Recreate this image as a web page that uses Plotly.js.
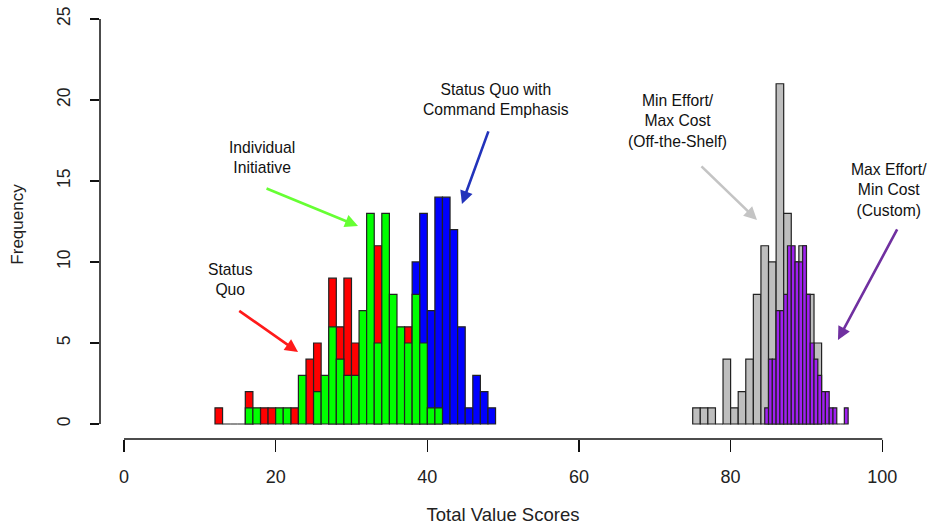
<!DOCTYPE html>
<html>
<head>
<meta charset="utf-8">
<script src="https://cdn.plot.ly/plotly-3.0.1.min.js"></script>
<style>html,body{margin:0;padding:0;background:#fff;}#chart{width:932px;height:525px;}</style>
</head>
<body>
<div id="chart"></div>
<script>
// Bin left edges and frequencies (unit-width bins)
const statusQuoBins   = [12, 13, 14, 15, 16, 18, 19, 22, 24, 25, 27, 28, 29, 30, 33, 37];
const statusQuoCounts = [ 1,  0,  0,  0,  2,  1,  1,  1,  4,  5,  9,  6,  9,  5, 11,  6];

const commandBins   = [38, 39, 40, 41, 42, 43, 44, 45, 46, 47, 48];
const commandCounts = [10, 13,  7, 14, 14, 12,  6,  1,  3,  2,  1];

const initiativeBins   = [16, 17, 20, 21, 23, 25, 26, 27, 28, 29, 30, 31, 32, 33, 34, 35, 36, 37, 38, 39, 40, 41];
const initiativeCounts = [ 1,  1,  1,  1,  3,  2,  3,  6,  4,  3,  3,  7, 13,  5, 13,  8,  6,  5,  8,  5,  1,  1];

const offShelfBins   = [75, 76, 77, 78, 79, 80, 81, 82, 83, 84, 85, 86, 87, 88, 89, 90, 91];
const offShelfCounts = [ 1,  1,  1,  0,  4,  1,  2,  4,  8, 11, 10, 21, 13, 10, 11,  8,  5];

// Half-unit bins
const customBins   = [84.5, 85, 85.5, 86, 86.5, 87, 87.5, 88, 88.5, 89, 89.5, 90, 90.5, 91, 91.5, 92, 92.5, 93, 93.5, 94, 94.5, 95];
const customCounts = [   1,  4,    4,  7,    7,  8,   11, 11,   10, 10,   11,  8,    5,  4,    3,  2,    2,  1,    1,  0,    0,  1];

const xTicks = [0, 20, 40, 60, 80, 100];
const yTicks = [0, 5, 10, 15, 20, 25];

const FONT = 'Liberation Sans, Arial, sans-serif';
const edge = {color: '#222222', width: 1.2};

function hist(bins, counts, color, w) {
  return {type: 'bar', x: bins, y: counts, width: w, offset: 0,
          marker: {color: color, line: edge}, hoverinfo: 'x+y', showlegend: false};
}

const data = [
  hist(statusQuoBins, statusQuoCounts, '#FF0000', 1),
  hist(commandBins, commandCounts, '#0000FF', 1),
  hist(initiativeBins, initiativeCounts, '#00FF00', 1),
  hist(offShelfBins, offShelfCounts, '#BEBEBE', 1),
  hist(customBins, customCounts, '#A020F0', 0.5)
];

function label(x, y, text) {
  return {x: x, y: y, xref: 'x', yref: 'y', text: text, showarrow: false,
          font: {family: FONT, size: 15.7, color: '#111'}, align: 'center'};
}
function arrow(x0, y0, x1, y1, color) {
  return {x: x1, y: y1, ax: x0, ay: y0, xref: 'x', yref: 'y', axref: 'x', ayref: 'y',
          text: '', showarrow: true, arrowhead: 2, arrowsize: 1, arrowwidth: 2.6, arrowcolor: color};
}

const annotations = [
  label(13.98, 8.89, 'Status<br>Quo'),
  arrow(15.0, 7.05, 22.95, 4.44, '#FF1A1A'),
  label(18.2, 16.42, 'Individual<br>Initiative'),
  arrow(18.6, 14.57, 30.86, 12.22, '#66FF33'),
  label(49.06, 20.0, 'Status Quo with<br>Command Emphasis'),
  arrow(48.13, 18.15, 44.57, 13.58, '#2233BB'),
  label(73.06, 18.7, 'Min Effort/<br>Max Cost<br>(Off-the-Shelf)'),
  arrow(75.96, 15.99, 83.48, 12.59, '#C4C4C4'),
  label(100.9, 14.44, 'Max Effort/<br>Min Cost<br>(Custom)'),
  arrow(102.07, 12.1, 94.16, 5.19, '#7030A0')
];

const layout = {
  width: 932, height: 525,
  margin: {l: 100, r: 26, t: 10, b: 86, pad: 0},
  paper_bgcolor: '#fff', plot_bgcolor: '#fff',
  barmode: 'overlay', bargap: 0,
  font: {family: FONT, size: 17, color: '#222'},
  xaxis: {
    range: [-3.165, 103.13], tickvals: xTicks, ticktext: xTicks.map(String),
    ticks: 'outside', ticklen: 12, tickwidth: 1.5, tickcolor: '#111',
    ticklabelstandoff: 9,
    showline: false, showgrid: false, zeroline: false, fixedrange: true,
    tickfont: {family: FONT, size: 18, color: '#222'},
    title: {text: 'Total Value Scores', font: {family: FONT, size: 18.5, color: '#222'}, standoff: 32},
    automargin: false
  },
  yaxis: {
    range: [-0.926, 25.55], tickvals: yTicks, ticktext: yTicks.map(String),
    ticks: 'outside', ticklen: 9, tickwidth: 1.5, tickcolor: '#111', tickangle: -90,
    ticklabelstandoff: 13,
    showline: false, showgrid: false, zeroline: false, fixedrange: true,
    tickfont: {family: FONT, size: 17.5, color: '#222'},
    title: {text: 'Frequency', font: {family: FONT, size: 17, color: '#222'}, standoff: 26},
    automargin: false
  },
  shapes: [
    {type: 'line', xref: 'x', yref: 'paper', x0: 0, x1: 100, y0: 0, y1: 0, line: {color: '#111', width: 1.5}},
    {type: 'line', xref: 'paper', yref: 'y', x0: 0, x1: 0, y0: 0, y1: 25, line: {color: '#111', width: 1.5}}
  ],
  annotations: annotations
};

Plotly.newPlot('chart', data, layout, {displayModeBar: false, staticPlot: true});
</script>
</body>
</html>
